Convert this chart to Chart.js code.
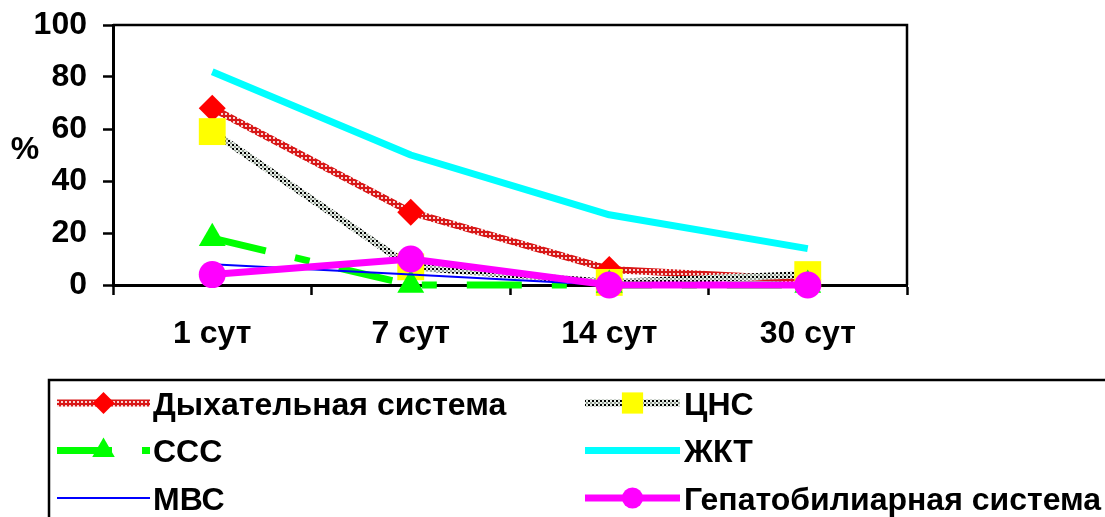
<!DOCTYPE html>
<html>
<head>
<meta charset="utf-8">
<script src="https://cdn.jsdelivr.net/npm/chart.js@4/dist/chart.umd.min.js"></script>
<style>
  html, body { margin: 0; padding: 0; background: #fff; }
  #wrap { width: 1105px; height: 517px; position: relative; }
</style>
</head>
<body>
<div id="wrap"><canvas id="c" width="1105" height="517"></canvas></div>
<script>
// Categories and tick labels
const categories = ['1 сут', '7 сут', '14 сут', '30 сут'];
const yTicks = [0, 20, 40, 60, 80, 100];

// Share of patients with involvement of each system, %
const respiratory   = [68, 28, 6, 2];
const cns           = [59, 7, 1, 4];
const cardio        = [18, 0, 0, 0];
const gastro        = [82, 50, 27, 14];
const urinary       = [8, 4, 0, 0];
const hepatobiliary = [4, 10, 0, 0];

const seriesNames = ['Дыхательная система', 'ЦНС', 'ССС', 'ЖКТ', 'МВС', 'Гепатобилиарная система'];

const FONT = "'Liberation Sans', Arial, sans-serif";
const FONT_SIZE = 32;

// Small tiled textures for the hatched / dotted lines
function makePattern(size, bg, dots) {
  const c = document.createElement('canvas');
  c.width = c.height = size;
  const g = c.getContext('2d');
  g.fillStyle = bg;
  g.fillRect(0, 0, size, size);
  dots.forEach(([x, y, w, h, col]) => { g.fillStyle = col; g.fillRect(x, y, w, h); });
  return g.createPattern(c, 'repeat');
}
const redHatch = makePattern(4, '#d81818', [[1, 1, 2, 2, '#f7d4d4']]);
const cnsDots  = makePattern(4, '#e6ede6', [[0, 0, 2, 2, '#000000'], [2, 2, 2, 2, '#9aa49a']]);

const datasets = [
  { label: seriesNames[0], data: respiratory, borderColor: redHatch, borderWidth: 7,
    pointStyle: 'rectRot', pointRadius: 13.5, pointBackgroundColor: '#ff0000', pointBorderWidth: 0,
    legendRadius: 11, order: 5 },
  { label: seriesNames[1], data: cns, borderColor: cnsDots, borderWidth: 7,
    pointStyle: 'rect', pointRadius: 19, pointBackgroundColor: '#ffff00', pointBorderWidth: 0,
    legendRadius: 15, order: 4 },
  { label: seriesNames[2], data: cardio, borderColor: '#00ff00', borderWidth: 7, borderDash: [55, 30, 15, 30],
    pointStyle: 'triangle', pointRadius: 15.5, pointBackgroundColor: '#00ff00', pointBorderWidth: 0,
    legendRadius: 13, order: 3 },
  { label: seriesNames[3], data: gastro, borderColor: '#00ffff', borderWidth: 7,
    pointRadius: 0, legendRadius: 0, order: 2 },
  { label: seriesNames[4], data: urinary, borderColor: '#0000ff', borderWidth: 2,
    pointRadius: 0, legendRadius: 0, order: 1 },
  { label: seriesNames[5], data: hepatobiliary, borderColor: '#ff00ff', borderWidth: 7,
    pointStyle: 'circle', pointRadius: 13.5, pointBackgroundColor: '#ff00ff', pointBorderWidth: 0,
    legendRadius: 10.5, order: 0 }
];
datasets.forEach(d => { d.clip = false; d.tension = 0; d.borderJoinStyle = 'round'; d.pointHoverRadius = d.pointRadius; });

// Plot frame (top and right edges)
const framePlugin = {
  id: 'frame',
  beforeDatasetsDraw(chart) {
    const { ctx, chartArea: a } = chart;
    ctx.save();
    ctx.strokeStyle = '#000';
    ctx.lineWidth = 2.5;
    ctx.beginPath();
    ctx.moveTo(a.left, a.top);
    ctx.lineTo(a.right, a.top);
    ctx.lineTo(a.right, a.bottom);
    ctx.stroke();
    ctx.restore();
  }
};

// Axis unit label, upright, left of the value axis
const unitPlugin = {
  id: 'unit',
  afterDraw(chart) {
    const ctx = chart.ctx;
    ctx.save();
    ctx.fillStyle = '#000';
    ctx.font = 'bold ' + FONT_SIZE + 'px ' + FONT;
    ctx.textAlign = 'center';
    ctx.textBaseline = 'middle';
    ctx.fillText('%', 25, 150);
    ctx.restore();
  }
};

// Two-column framed legend below the plot
const legendPlugin = {
  id: 'boxLegend',
  afterDraw(chart) {
    const ctx = chart.ctx;
    ctx.save();
    ctx.strokeStyle = '#000';
    ctx.lineWidth = 2.5;
    ctx.beginPath();
    ctx.moveTo(49, 530);
    ctx.lineTo(49, 380);
    ctx.lineTo(1110, 380);
    ctx.stroke();

    chart.data.datasets.forEach((d, i) => {
      const col = i % 2, row = Math.floor(i / 2);
      const x0 = col ? 585 : 57, x1 = col ? 680 : 150;
      const y = 403 + row * 47.5;
      const tx = col ? 684 : 153;
      ctx.save();
      ctx.beginPath();
      ctx.rect(x0, y - 10, x1 - x0, 20);
      ctx.clip();
      ctx.strokeStyle = d.borderColor;
      ctx.lineWidth = d.borderWidth;
      ctx.setLineDash(d.borderDash || []);
      ctx.beginPath();
      ctx.moveTo(x0, y);
      ctx.lineTo(x1 + 40, y);
      ctx.stroke();
      ctx.restore();
      if (d.legendRadius) {
        ctx.fillStyle = d.pointBackgroundColor;
        Chart.helpers.drawPoint(ctx, { pointStyle: d.pointStyle, radius: d.legendRadius, rotation: 0, borderWidth: 0 },
          (x0 + x1) / 2, y);
      }
      ctx.fillStyle = '#000';
      ctx.font = 'bold ' + FONT_SIZE + 'px ' + FONT;
      ctx.textAlign = 'left';
      ctx.textBaseline = 'middle';
      ctx.fillText(d.label, tx, y + 3);
    });
    ctx.restore();
  }
};

const tickFont = { family: FONT, size: FONT_SIZE, weight: 'bold' };

new Chart(document.getElementById('c'), {
  type: 'line',
  data: { labels: categories, datasets },
  options: {
    responsive: false,
    animation: false,
    devicePixelRatio: 1,
    layout: { padding: { top: 25, right: 198, left: 0, bottom: 0 } },
    plugins: { legend: { display: false }, tooltip: { enabled: false } },
    scales: {
      x: {
        type: 'category',
        offset: true,
        grid: { offset: true, drawOnChartArea: false, drawTicks: true, tickLength: 10, tickWidth: 2.5, tickColor: '#000' },
        border: { display: true, color: '#000', width: 3 },
        ticks: { color: '#000', font: tickFont, padding: 20, maxRotation: 0, autoSkip: false },
        afterFit(s) { s.height = 232; s.paddingLeft = 0; s.paddingRight = 0; }
      },
      y: {
        min: 0, max: 100,
        afterBuildTicks(s) { s.ticks = yTicks.map(v => ({ value: v })); },
        grid: { drawOnChartArea: false, drawTicks: true, tickLength: 10, tickWidth: 2.5, tickColor: '#000' },
        border: { display: true, color: '#000', width: 3 },
        ticks: { color: '#000', font: tickFont, padding: 16 },
        afterFit(s) { s.width = 113; s.paddingTop = 0; s.paddingBottom = 0; }
      }
    }
  },
  plugins: [framePlugin, unitPlugin, legendPlugin]
});
</script>
</body>
</html>
